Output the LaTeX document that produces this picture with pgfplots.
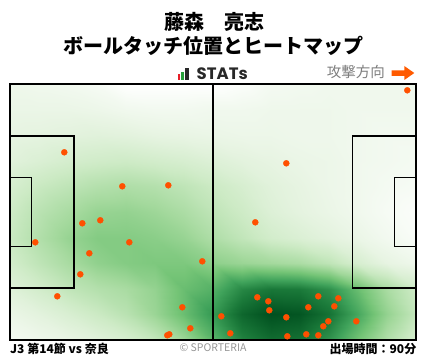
\documentclass[border=0pt]{standalone}
\usepackage{pgfplots}
\pgfplotsset{compat=1.18}
\usepackage{pgfplotstable}
\usepackage{fontspec}
\setmainfont{Noto Sans CJK JP}
\newfontfamily\stats{Poppins}
\definecolor{dotorange}{RGB}{255,80,0}
\definecolor{arrowor}{RGB}{255,90,0}
\definecolor{graytxt}{RGB}{125,125,125}
\definecolor{lightgraytxt}{RGB}{150,150,150}
\definecolor{iconred}{RGB}{230,30,40}
\definecolor{icongreen}{RGB}{40,160,60}
\definecolor{icondark}{RGB}{40,40,40}

% heat density grid (x in m, y in m, z = relative density)
\pgfplotstableread{
x y z
0 0 0.05
7.5 0 0.08
15 0 0.11
22.5 0 0.15
30 0 0.20
37.5 0 0.28
45 0 0.42
52.5 0 0.62
60 0 0.82
67.5 0 0.90
75 0 0.88
82.5 0 0.76
90 0 0.55
97.5 0 0.35
105 0 0.20
0 6.8 0.10
7.5 6.8 0.14
15 6.8 0.19
22.5 6.8 0.25
30 6.8 0.32
37.5 6.8 0.43
45 6.8 0.58
52.5 6.8 0.74
60 6.8 0.92
67.5 6.8 1.00
75 6.8 0.98
82.5 6.8 0.88
90 6.8 0.68
97.5 6.8 0.45
105 6.8 0.28
0 13.6 0.16
7.5 13.6 0.22
15 13.6 0.29
22.5 13.6 0.34
30 13.6 0.38
37.5 13.6 0.45
45 13.6 0.58
52.5 13.6 0.64
60 13.6 0.80
67.5 13.6 0.86
75 13.6 0.85
82.5 13.6 0.77
90 13.6 0.58
97.5 13.6 0.38
105 13.6 0.24
0 20.4 0.22
7.5 20.4 0.30
15 20.4 0.38
22.5 20.4 0.46
30 20.4 0.50
37.5 20.4 0.52
45 20.4 0.52
52.5 20.4 0.47
60 20.4 0.43
67.5 20.4 0.40
75 20.4 0.37
82.5 20.4 0.30
90 20.4 0.20
97.5 20.4 0.12
105 20.4 0.08
0 27.2 0.26
7.5 27.2 0.35
15 27.2 0.44
22.5 27.2 0.50
30 27.2 0.50
37.5 27.2 0.48
45 27.2 0.44
52.5 27.2 0.36
60 27.2 0.29
67.5 27.2 0.22
75 27.2 0.18
82.5 27.2 0.14
90 27.2 0.10
97.5 27.2 0.06
105 27.2 0.03
0 34 0.24
7.5 34 0.32
15 34 0.38
22.5 34 0.44
30 34 0.45
37.5 34 0.42
45 34 0.37
52.5 34 0.30
60 34 0.24
67.5 34 0.17
75 34 0.13
82.5 34 0.10
90 34 0.07
97.5 34 0.04
105 34 0.02
0 40.8 0.20
7.5 40.8 0.26
15 40.8 0.30
22.5 40.8 0.34
30 40.8 0.36
37.5 40.8 0.34
45 40.8 0.30
52.5 40.8 0.25
60 40.8 0.20
67.5 40.8 0.15
75 40.8 0.12
82.5 40.8 0.09
90 40.8 0.07
97.5 40.8 0.05
105 40.8 0.04
0 47.6 0.15
7.5 47.6 0.18
15 47.6 0.21
22.5 47.6 0.23
30 47.6 0.24
37.5 47.6 0.22
45 47.6 0.20
52.5 47.6 0.17
60 47.6 0.14
67.5 47.6 0.12
75 47.6 0.10
82.5 47.6 0.09
90 47.6 0.07
97.5 47.6 0.06
105 47.6 0.05
0 54.4 0.12
7.5 54.4 0.13
15 54.4 0.14
22.5 54.4 0.15
30 54.4 0.14
37.5 54.4 0.12
45 54.4 0.11
52.5 54.4 0.10
60 54.4 0.09
67.5 54.4 0.09
75 54.4 0.08
82.5 54.4 0.08
90 54.4 0.07
97.5 54.4 0.06
105 54.4 0.06
0 61.2 0.10
7.5 61.2 0.10
15 61.2 0.10
22.5 61.2 0.09
30 61.2 0.07
37.5 61.2 0.06
45 61.2 0.06
52.5 61.2 0.07
60 61.2 0.07
67.5 61.2 0.08
75 61.2 0.08
82.5 61.2 0.08
90 61.2 0.07
97.5 61.2 0.07
105 61.2 0.07
0 68 0.08
7.5 68 0.07
15 68 0.06
22.5 68 0.04
30 68 0.00
37.5 68 0.00
45 68 0.00
52.5 68 0.00
60 68 0.02
67.5 68 0.05
75 68 0.06
82.5 68 0.07
90 68 0.07
97.5 68 0.07
105 68 0.07
}\heatdata

% ball touches (x, y in m)
\pgfplotstableread{
x y
102.75 66.33
14.04 49.86
29.04 40.83
40.94 41.09
71.46 46.94
18.70 31.00
23.35 31.80
6.54 25.95
30.85 25.95
20.51 23.03
49.73 20.90
18.18 17.45
12.23 11.61
44.56 8.69
46.63 3.11
40.68 1.25
41.20 1.51
63.44 31.26
63.96 11.34
66.80 10.28
79.73 11.61
84.91 11.08
67.06 7.89
77.15 8.69
83.87 8.95
54.65 6.30
71.46 6.03
82.32 4.97
89.56 4.97
81.03 3.64
56.97 1.78
71.72 0.98
76.63 1.51
79.73 1.25
}\touches

\begin{document}
\begin{tikzpicture}[x=1pt,y=1pt]
\useasboundingbox (0,0) rectangle (428,359);
\begin{axis}[
  at={(10pt,19pt)}, anchor=south west,
  width=406pt, height=256pt, scale only axis,
  xmin=0, xmax=105, ymin=0, ymax=68,
  ticks=none,
  axis line style={black, line width=1.4pt},
  axis on top,
  colormap={heat}{rgb255(0pt)=(255,255,255); rgb255(5pt)=(244,250,242); rgb255(12pt)=(231,244,226); rgb255(25pt)=(204,234,196); rgb255(40pt)=(164,217,157); rgb255(55pt)=(116,196,118); rgb255(70pt)=(64,163,91); rgb255(85pt)=(27,122,58); rgb255(100pt)=(0,80,31)},
  point meta min=0, point meta max=1,
]
\addplot[surf, shader=interp, mesh/cols=15, point meta=\thisrow{z}] table[x=x, y=y] {\heatdata};
% pitch markings
\addplot[black, line width=1.4pt] coordinates {(52.5,0) (52.5,68)};
\addplot[black, line width=1.4pt, line join=miter] coordinates {(0,13.85) (16.5,13.85) (16.5,54.15) (0,54.15)};
\addplot[black, line width=1.4pt, line join=miter] coordinates {(0,24.84) (5.5,24.84) (5.5,43.16) (0,43.16)};
\addplot[black, line width=1.4pt, line join=miter] coordinates {(105,13.85) (88.5,13.85) (88.5,54.15) (105,54.15)};
\addplot[black, line width=1.4pt, line join=miter] coordinates {(105,24.84) (99.5,24.84) (99.5,43.16) (105,43.16)};
\addplot[only marks, mark=*, mark size=3pt, color=dotorange, mark options={draw=dotorange, fill=dotorange}] table[x=x, y=y] {\touches};
\end{axis}
% titles
\node[font=\bfseries\fontsize{20}{20}\selectfont] at (214,337) {藤森　亮志};
\node[font=\bfseries\fontsize{20}{20}\selectfont] at (213.5,313) {ボールタッチ位置とヒートマップ};
% STATs logo
\fill[iconred] (177.7,279) rectangle (180.3,285);
\fill[icongreen] (181,279) rectangle (183.7,286.7);
\fill[icondark] (185,279) rectangle (189,291);
\node[font=\stats\bfseries\fontsize{16.5}{17}\selectfont, text=icondark, anchor=base west, inner sep=0pt] at (196.5,279) {STATs};
% attack direction
\node[font=\fontsize{14.5}{15}\selectfont, text=graytxt, anchor=east, inner sep=0pt] at (385,287) {攻撃方向};
\fill[arrowor] (391.7,283) -- (404.3,283) -- (404.3,279) -- (414.3,286) -- (404.3,293) -- (404.3,288.7) -- (391.7,288.7) -- cycle;
% footer
\node[font=\bfseries\fontsize{12}{12}\selectfont, anchor=west, inner sep=0pt] at (10,10) {J3 第14節 vs 奈良};
\node[font=\fontsize{10.5}{11}\selectfont, text=lightgraytxt, inner sep=0pt] at (213,11) {© SPORTERIA};
\node[font=\bfseries\fontsize{12}{12}\selectfont, anchor=east, inner sep=0pt] at (416.5,10) {出場時間：90分};
\end{tikzpicture}
\end{document}
